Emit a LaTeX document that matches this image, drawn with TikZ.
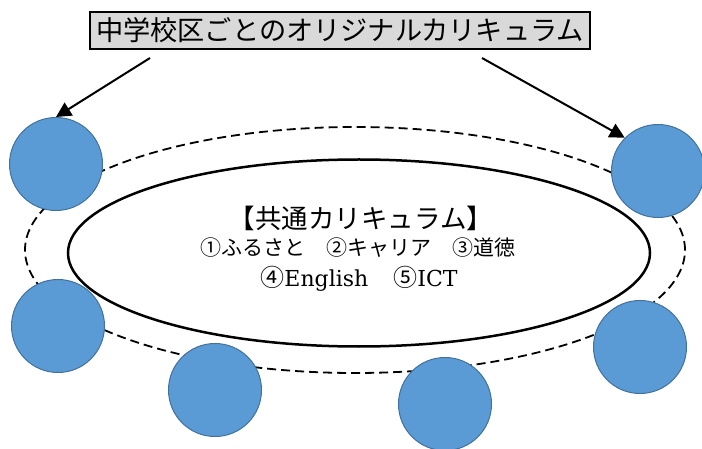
\documentclass[tikz,border=0pt]{standalone}
\usepackage{fontspec}
\setmainfont{DejaVu Serif}
\newfontfamily\jp{Noto Sans CJK JP}
\usetikzlibrary{arrows.meta,shapes.geometric}
\definecolor{circfill}{HTML}{5B9BD5}
\definecolor{circline}{HTML}{41719C}
\definecolor{titlegray}{HTML}{D9D9D9}
\begin{document}
\begin{tikzpicture}[x=1pt,y=-1pt,
  bluecirc/.style={circle, fill=circfill, draw=circline, line width=1pt, minimum size=93pt, inner sep=0pt},
  arr/.style={line width=2pt, -{Triangle[length=15pt,width=15pt]}},
  ringline/.style={dash pattern=on 9pt off 5pt, line width=1.8pt},
  coreline/.style={ellipse, draw, line width=2.5pt, minimum width=582pt, minimum height=187pt, inner sep=0pt},
  lineA/.style={font=\jp\fontsize{26.5}{30}\selectfont, inner sep=0pt},
  lineB/.style={font=\jp\fontsize{21}{24}\selectfont, inner sep=0pt}]
\useasboundingbox (0,0) rectangle (702,449);
% dashed ring
\draw[ringline] (355,250) ellipse [x radius=330pt, y radius=123pt];
% solid core ellipse
\node[coreline] (core) at (359,253) {};
\node[lineA] (t1) at (361,218) {【共通カリキュラム】};
\node[lineB] (t2) at (358,248) {①ふるさと　②キャリア　③道徳};
\node[lineB] (t3) at (359,279) {{\fontsize{24}{24}\selectfont ④}{\fontsize{22}{24}\selectfont\rmfamily English}\hspace{4pt}　{\fontsize{24}{24}\selectfont ⑤}{\fontsize{22}{24}\selectfont\rmfamily ICT}};
% title
\node[draw, fill=titlegray, line width=1.5pt, minimum width=500pt, minimum height=37pt, inner sep=0pt,
  font=\jp\fontsize{27.2}{30}\selectfont] (title) at (340,30.5) {中学校区ごとのオリジナルカリキュラム};
% circles
\node[bluecirc] (c1) at (56,164) {};
\node[bluecirc] (c2) at (658,171) {};
\node[bluecirc] (c3) at (58,326) {};
\node[bluecirc] (c4) at (640,347) {};
\node[bluecirc] (c5) at (215,390) {};
\node[bluecirc] (c6) at (445,404) {};
% arrows
\coordinate (s1) at (150,58);
\coordinate (s2) at (482,58);
\draw[arr] (s1) -- (c1.north);
\draw[arr] (s2) -- (c2.135);
\end{tikzpicture}
\end{document}
